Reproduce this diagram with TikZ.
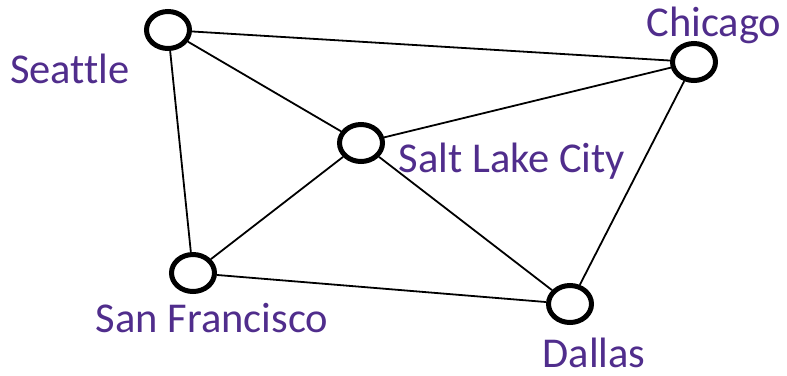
\documentclass[tikz,border=0pt]{standalone}
\usepackage{fontspec}
\setmainfont{Carlito}[Ligatures = NoCommon]
\usepackage{xcolor}
\usepackage{tikz}
\usetikzlibrary{shapes,positioning}
\definecolor{cityviolet}{RGB}{80,45,140}
\tikzset{
  hub/.style = {draw, ellipse, line width = 5pt, minimum width = 43pt, minimum height = 37pt, inner sep = 0pt, fill = white},
  cityname/.style = {font = \fontsize{42.5}{48}\selectfont, text = cityviolet, inner sep = 0pt, anchor = base},
  road/.style = {line width = 1.8pt}
}

\begin{document}
\begin{tikzpicture}[x = 1pt, y = -1pt]
  \useasboundingbox (0,0) rectangle (787,375);
  \node[hub] (sea) at (168,30) {};
  \node[hub] (chi) at (694,62) {};
  \node[hub] (slc) at (361,143) {};
  \node[hub] (sfo) at (193,273) {};
  \node[hub] (dal) at (570,304) {};
  \draw[road] (sea) -- (chi);
  \draw[road] (sea) -- (slc);
  \draw[road] (sea) -- (sfo);
  \draw[road] (chi) -- (slc);
  \draw[road] (chi) -- (dal);
  \draw[road] (slc) -- (sfo);
  \draw[road] (slc) -- (dal);
  \draw[road] (sfo) -- (dal);
  \node[cityname] (seal) at (70,83) {Seattle};
  \node[cityname] (chil) at (714,36) {Chicago};
  \node[cityname] (slcl) at (512,172) {Salt Lake City};
  \node[cityname] (sfol) at (212,332) {San Francisco};
  \node[cityname] (dall) at (594,367) {Dallas};
\end{tikzpicture}
\end{document}
